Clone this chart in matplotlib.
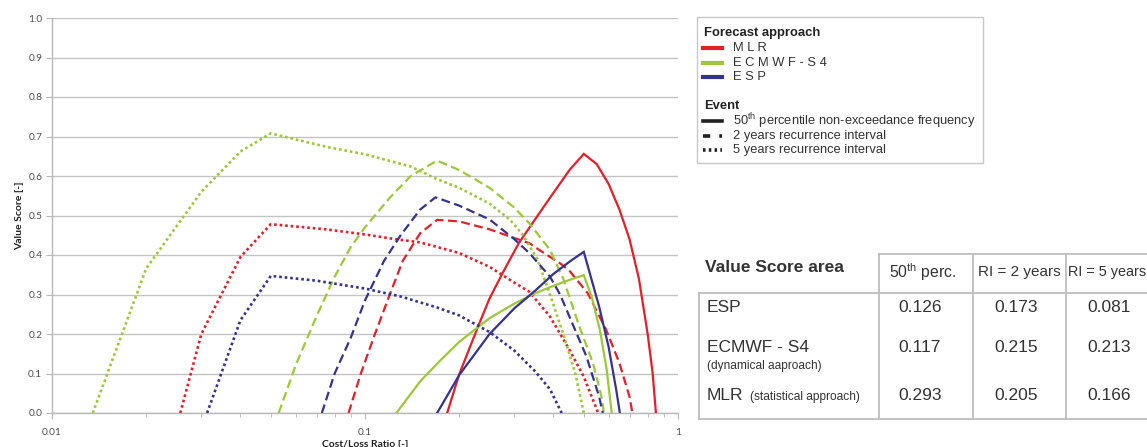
import matplotlib
matplotlib.use('Agg')
import matplotlib.pyplot as plt
from matplotlib.lines import Line2D
from matplotlib.patches import Rectangle
from matplotlib.ticker import FixedLocator, NullFormatter, FixedFormatter

# ---------------- data ----------------
mlr_50_x = [0.183, 0.2, 0.23, 0.25, 0.275, 0.31, 0.36, 0.39, 0.45, 0.5, 0.55, 0.6, 0.65, 0.7, 0.75, 0.8, 0.83, 0.85]
mlr_50_v = [0, 0.098, 0.22, 0.29, 0.354, 0.43, 0.505, 0.545, 0.615, 0.656, 0.63, 0.58, 0.515, 0.44, 0.34, 0.2, 0.10, 0]

mlr_ri2_x = [0.0886, 0.097, 0.107, 0.12, 0.132, 0.15, 0.17, 0.2, 0.25, 0.3, 0.335, 0.36, 0.42, 0.45, 0.515, 0.59, 0.65, 0.70, 0.715]
mlr_ri2_v = [0, 0.1, 0.195, 0.30, 0.385, 0.455, 0.489, 0.485, 0.465, 0.443, 0.43, 0.413, 0.379, 0.36, 0.303, 0.21, 0.126, 0.041, 0]

mlr_ri5_x = [0.0257, 0.03, 0.04, 0.05, 0.075, 0.1, 0.125, 0.15, 0.2, 0.25, 0.3, 0.335, 0.39, 0.45, 0.5, 0.54, 0.556]
mlr_ri5_v = [0, 0.20, 0.395, 0.478, 0.465, 0.452, 0.44, 0.432, 0.405, 0.37, 0.33, 0.307, 0.244, 0.16, 0.092, 0.025, 0]

ecm_50_x = [0.126, 0.15, 0.175, 0.2, 0.25, 0.3, 0.35, 0.4, 0.45, 0.5, 0.53, 0.563, 0.592, 0.614]
ecm_50_v = [0, 0.08, 0.135, 0.18, 0.24, 0.277, 0.303, 0.322, 0.337, 0.349, 0.294, 0.21, 0.109, 0]

ecm_ri2_x = [0.053, 0.06, 0.07, 0.08, 0.09, 0.1, 0.12, 0.14, 0.17, 0.2, 0.25, 0.3, 0.335, 0.39, 0.43, 0.48, 0.535, 0.57, 0.58]
ecm_ri2_v = [0, 0.12, 0.245, 0.345, 0.42, 0.47, 0.545, 0.60, 0.639, 0.615, 0.57, 0.52, 0.48, 0.413, 0.34, 0.227, 0.126, 0.041, 0]

ecm_ri5_x = [0.0135, 0.02, 0.03, 0.04, 0.05, 0.075, 0.1, 0.14, 0.17, 0.2, 0.25, 0.29, 0.32, 0.355, 0.39, 0.43, 0.47, 0.50]
ecm_ri5_v = [0, 0.366, 0.56, 0.662, 0.708, 0.674, 0.655, 0.624, 0.592, 0.57, 0.53, 0.49, 0.45, 0.39, 0.30, 0.20, 0.10, 0]

esp_50_x = [0.17, 0.2, 0.25, 0.3, 0.35, 0.4, 0.45, 0.5, 0.56, 0.6, 0.635, 0.652]
esp_50_v = [0, 0.096, 0.20, 0.265, 0.31, 0.352, 0.383, 0.408, 0.269, 0.168, 0.058, 0]

esp_ri2_x = [0.0728, 0.08, 0.09, 0.1, 0.115, 0.13, 0.15, 0.168, 0.2, 0.25, 0.3, 0.335, 0.39, 0.42, 0.45, 0.51, 0.56, 0.575]
esp_ri2_v = [0, 0.1, 0.19, 0.285, 0.385, 0.45, 0.515, 0.546, 0.525, 0.49, 0.44, 0.405, 0.345, 0.30, 0.244, 0.143, 0.041, 0]

esp_ri5_x = [0.0313, 0.04, 0.05, 0.07, 0.1, 0.13, 0.17, 0.2, 0.25, 0.3, 0.35, 0.39, 0.425]
esp_ri5_v = [0, 0.235, 0.347, 0.335, 0.315, 0.295, 0.267, 0.247, 0.205, 0.158, 0.105, 0.06, 0]

approach_names = ['M L R', 'E C M W F - S 4', 'E S P']
event_names = ['percentile non-exceedance frequency', '2 years recurrence interval', '5 years recurrence interval']

y_ticks = [0.0, 0.1, 0.2, 0.3, 0.4, 0.5, 0.6, 0.7, 0.8, 0.9, 1.0]
x_major = [0.01, 0.1, 1]
x_major_labels = ['0.01', '0.1', '1']

table_cols = ['50th perc.', 'RI = 2 years', 'RI = 5 years']
table_rows = ['ESP', 'ECMWF - S4', 'MLR']
table_row_notes = ['', '(dynamical aaproach)', '(statistical approach)']
table_vals = [['0.126', '0.173', '0.081'],
              ['0.117', '0.215', '0.213'],
              ['0.293', '0.205', '0.166']]

# ---------------- style ----------------
RED = '#e3202a'
GREEN = '#9cc83a'
BLUE = '#34338f'
colors = [RED, GREEN, BLUE]
styles = ['-', (0, (4, 2)), (0, (1, 1.1))]
widths = [1.6, 1.6, 1.9]

W, H = 1147, 447
fig = plt.figure(figsize=(W / 100, H / 100), dpi=100)

def fx(px):
    return px / W

def fy(py):
    return 1 - py / H

ax = fig.add_axes([fx(52), fy(413), fx(678) - fx(52), fy(18) - fy(413)])
ax.set_xscale('log')
ax.set_xlim(0.01, 1)
ax.set_ylim(0, 1)

series = [
    (mlr_50_x, mlr_50_v, 0, 0), (mlr_ri2_x, mlr_ri2_v, 0, 1), (mlr_ri5_x, mlr_ri5_v, 0, 2),
    (ecm_50_x, ecm_50_v, 1, 0), (ecm_ri2_x, ecm_ri2_v, 1, 1), (ecm_ri5_x, ecm_ri5_v, 1, 2),
    (esp_50_x, esp_50_v, 2, 0), (esp_ri2_x, esp_ri2_v, 2, 1), (esp_ri5_x, esp_ri5_v, 2, 2),
]
for xs, vs, ci, si in series:
    ax.plot(xs, vs, color=colors[ci], linestyle=styles[si], lw=widths[si],
            solid_joinstyle='miter', dash_capstyle='butt', clip_on=True, zorder=3)

axis_font = 'Lato'
ax.set_yticks(y_ticks)
ax.set_yticklabels([f'{t:.1f}' for t in y_ticks], fontsize=7.3, color='#505050', family=axis_font)
ax.xaxis.set_major_locator(FixedLocator(x_major))
ax.xaxis.set_major_formatter(FixedFormatter(x_major_labels))
minor = [m * d for d in (0.01, 0.1) for m in range(2, 10)]
ax.xaxis.set_minor_locator(FixedLocator(minor))
ax.xaxis.set_minor_formatter(NullFormatter())
for lab in ax.get_xticklabels():
    lab.set_fontsize(7.3)
    lab.set_color('#505050')
    lab.set_family(axis_font)

ax.grid(axis='y', color='#c4c4c4', lw=1.0)
ax.set_axisbelow(True)
for s in ['top', 'right']:
    ax.spines[s].set_visible(False)
for s in ['left', 'bottom']:
    ax.spines[s].set_color('#b8b8b8')
    ax.spines[s].set_linewidth(1.0)
ax.tick_params(axis='both', which='both', direction='out', color='#b8b8b8')
ax.tick_params(axis='y', length=4, pad=3)
ax.tick_params(axis='x', which='major', length=4, pad=7)
ax.tick_params(axis='x', which='minor', length=3)

ax.set_xlabel('Cost/Loss Ratio [-]', fontsize=7.5, fontweight='bold', family=axis_font, labelpad=2, color='#222222')
ax.set_ylabel('Value Score [-]', fontsize=7.5, fontweight='bold', family=axis_font, labelpad=3, color='#222222')

# ---------------- legend box ----------------
LF = 'Liberation Sans'
fig.add_artist(Rectangle((fx(697), fy(163)), fx(983) - fx(697), fy(17) - fy(163),
                         transform=fig.transFigure, fill=False, edgecolor='#c8c8c8', lw=1.0))
fig.text(fx(704), fy(33), 'Forecast approach', fontsize=9.4, fontweight='bold', family=LF,
         va='center', ha='left', color='#222222')
for i, name in enumerate(approach_names):
    py = 47.7 + i * 14.8
    fig.add_artist(Line2D([fx(703), fx(722)], [fy(py), fy(py)], transform=fig.transFigure,
                          color=colors[i], lw=3.0))
    fig.text(fx(733), fy(py), name, fontsize=9.3, family=LF,
             va='center', ha='left', color='#333333')
fig.text(fx(704), fy(105.7), 'Event', fontsize=9.4, fontweight='bold', family=LF,
         va='center', ha='left', color='#222222')
ev_styles = ['-', (0, (2, 2.5)), (0, (0.7, 0.9))]
for i, name in enumerate(event_names):
    py = 121.2 + i * 14.3
    fig.add_artist(Line2D([fx(703), fx(722)], [fy(py), fy(py)], transform=fig.transFigure,
                          color='#222222', lw=2.6, linestyle=ev_styles[i], dash_capstyle='butt'))
    if i == 0:
        fig.text(fx(733), fy(py), '50$^{\\mathregular{th}}$ ' + name, fontsize=9.3, family=LF,
                 va='center', ha='left', color='#333333')
    else:
        fig.text(fx(733), fy(py), name, fontsize=9.3, family=LF, va='center', ha='left', color='#333333')

# ---------------- table ----------------
TC = '#bdbdbd'
def hline(x0, x1, py):
    fig.add_artist(Line2D([fx(x0), fx(x1)], [fy(py), fy(py)], transform=fig.transFigure, color=TC, lw=1.3))
def vline(px, y0, y1):
    fig.add_artist(Line2D([fx(px), fx(px)], [fy(y0), fy(y1)], transform=fig.transFigure, color=TC, lw=1.3))

col_x = [879, 973, 1066]
hline(879, 1150, 254)
hline(699, 1150, 293)
hline(699, 1150, 419)
vline(699, 293, 419)
for cx in col_x:
    vline(cx, 254, 419)

fig.text(fx(705), fy(267), 'Value Score area', fontsize=12.5, fontweight='bold', family=LF,
         va='center', ha='left', color='#333333')
col_centers = [923, 1019, 1112]
fig.text(fx(col_centers[0]), fy(272), '50$^{\\mathregular{th}}$ perc.', fontsize=11.3, family=LF,
         va='center', ha='center', color='#333333')
fig.text(fx(col_centers[1]), fy(272), table_cols[1], fontsize=11, family=LF,
         va='center', ha='center', color='#333333')
fig.text(fx(1068), fy(272), table_cols[2], fontsize=10.4, family=LF,
         va='center', ha='left', color='#333333')

row_y = [308, 348, 396]
for r, name in enumerate(table_rows):
    fig.text(fx(707), fy(row_y[r]), name, fontsize=12.5, family=LF, va='center', ha='left', color='#333333')
    for c in range(3):
        fig.text(fx(col_centers[c] - 3), fy(row_y[r]), table_vals[r][c], fontsize=12.5, family=LF,
                 va='center', ha='center', color='#333333')
fig.text(fx(707), fy(366), table_row_notes[1], fontsize=8.6, family=LF, va='center', ha='left', color='#333333')
fig.text(fx(750), fy(397), table_row_notes[2], fontsize=8.6, family=LF, va='center', ha='left', color='#333333')

fig.savefig('out.png', dpi=100)
